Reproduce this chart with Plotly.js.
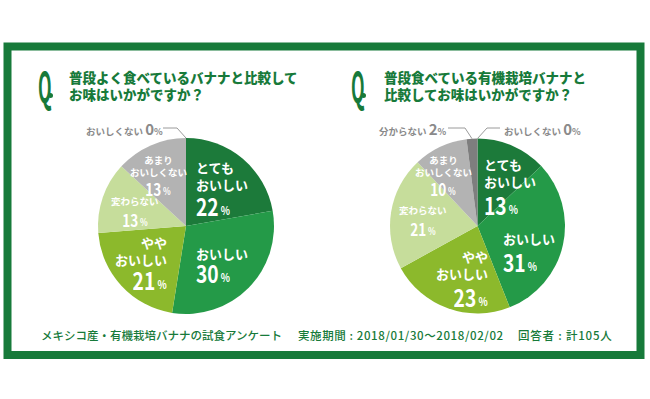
<!DOCTYPE html>
<html>
<head>
<meta charset="utf-8">
<script src="https://cdn.plot.ly/plotly-3.0.1.min.js"></script>
<style>
html,body{margin:0;padding:0;background:#fff;}
#chart{width:650px;height:399px;}
</style>
</head>
<body>
<div id="chart"></div>
<script>
// ---------- DATA ----------
const categories = ['とてもおいしい','おいしい','ややおいしい','変わらない','あまりおいしくない','分からない','おいしくない'];
const nameLines  = [['とても','おいしい'],['おいしい'],['やや','おいしい'],['変わらない'],['あまり','おいしくない'],['分からない'],['おいしくない']];
const values1 = [22, 30, 21, 13, 13, 0, 0];   // 普段よく食べているバナナと比較
const values2 = [13, 31, 23, 21, 10, 2, 0];   // 普段食べている有機栽培バナナと比較
const question1 = ['普段よく食べているバナナと比較して', 'お味はいかがですか？'];
const question2 = ['普段食べている有機栽培バナナと', '比較してお味はいかがですか？'];
const footParts = ['メキシコ産・有機栽培バナナの試食アンケート', '実施期間 : 2018/01/30〜2018/02/02', '回答者 : 計105人'];

// ---------- STYLE ----------
const colors = ['#1c7a3a','#249a48','#8cb92c','#c6dd9b','#b3b3b3','#7e7e7e','#999999'];
const green = '#177a3a';
const grey = '#8a8a8a';
const CJK = '"Noto Sans CJK JP", "Noto Sans", sans-serif';

// pie geometry (pixels)
const pies = [
  {values: values1, cx: 186, cy: 226, r: 88},
  {values: values2, cx: 477.5, cy: 226, r: 87.5}
];

// label placement per pie: index -> placement
const place1 = {
  0: {x:195, ys:[168,183], vy:205, a:'left', big:true},
  1: {x:195, ys:[253], vy:272, a:'left', big:true},
  2: {x:168, ys:[243,258], vy:279, a:'right', big:true},
  3: {x:135, ys:[201], vy:219, a:'center', big:false},
  4: {x:158, ys:[160,172], vy:188, a:'center', big:false},
  6: {out:true, x:85, y:128, lineFrom:163, elbow:177}
};
const place2 = {
  0: {x:483, ys:[165,180], vy:204, a:'left', big:true},
  1: {x:502, ys:[238], vy:261, a:'left', big:true},
  2: {x:489, ys:[257,273], vy:296, a:'right', big:true},
  3: {x:423, ys:[210], vy:228, a:'center', big:false},
  4: {x:443, ys:[160,172], vy:188, a:'center', big:false},
  5: {out:true, x:378, y:128, lineFrom:448, elbow:465},
  6: {out:true, x:503, y:128, lineFrom:500, elbow:487}
};
const places = [place1, place2];

const W = 650, H = 399;
const traces = [{type:'scatter', x:[], y:[], hoverinfo:'skip', showlegend:false}];
const annotations = [];
const shapes = [];
const condense = [];

function ann(x, y, text, opts, sx, anchor) {
  annotations.push(Object.assign({
    xref:'x', yref:'y', x:x, y:y, text:text, showarrow:false,
    xanchor:'left', yanchor:'middle', align:'left', borderpad:0,
    font:{family:CJK, size:12, color:'#ffffff', weight:700}
  }, opts || {}));
  if (sx) condense.push({i: annotations.length - 1, sx: sx, a: anchor || 'left'});
}

pies.forEach((p, pi) => {
  traces.push({
    type:'pie', labels:categories, values:p.values, sort:false,
    direction:'clockwise', rotation:0, textinfo:'none',
    marker:{colors:colors, line:{width:0}},
    domain:{x:[(p.cx - p.r)/W, (p.cx + p.r)/W], y:[(H - p.cy - p.r)/H, (H - p.cy + p.r)/H]},
    showlegend:false, hoverinfo:'label+percent'
  });
  const total = p.values.reduce((s,v)=>s+v,0);
  let cum = 0;
  p.values.forEach((v, i) => {
    const mid = (cum + v/2) / total;
    cum += v;
    const pl = places[pi][i];
    if (!pl) return;
    if (pl.out) {
      const txt = nameLines[i].join('') + ' <span style="font-size:15px">' + v + '</span><span style="font-size:9px">%</span>';
      ann(pl.x, pl.y, txt, {xanchor:'left', font:{family:CJK, size:9.5, color:grey, weight:700}});
      const ang = mid * 2 * Math.PI;
      const ex = p.cx + p.r * Math.sin(ang), ey = p.cy - p.r * Math.cos(ang);
      shapes.push({type:'path', xref:'x', yref:'y',
        path:'M' + pl.lineFrom + ',' + pl.y + ' L' + pl.elbow + ',' + pl.y + ' L' + ex.toFixed(1) + ',' + ey.toFixed(1),
        line:{color:'#9a9a9a', width:1}});
      return;
    }
    const nameSize = pl.big ? 13 : 9.5;
    const yMid = pl.ys.reduce((s,y)=>s+y,0) / pl.ys.length;
    ann(pl.x, yMid, nameLines[i].join('<br>'), {xanchor:pl.a, align:pl.a, font:{family:CJK, size:nameSize, color:'#ffffff', weight:700}});
    const numSize = pl.big ? 24 : 17;
    const pctSize = pl.big ? 12 : 10;
    const vtxt = '<span style="font-size:' + numSize + 'px">' + v + '</span><span style="font-size:' + pctSize + 'px"> %</span>';
    ann(pl.x, pl.vy, vtxt, {xanchor:pl.a, align:pl.a, height: pl.big ? 24 : 18, valign:'middle',
      font:{family:CJK, size:pctSize, color:'#ffffff', weight:700}}, 0.8, pl.a);
  });
});

// Questions
[[question1, 37, 68], [question2, 350, 383]].forEach(([q, qx, tx]) => {
  ann(qx, 84, 'Q', {font:{family:CJK, size:42, color:green, weight:700}}, 0.42, 'left');
  shapes.push({type:'circle', xref:'x', yref:'y', x0:qx + 11, x1:qx + 16, y0:93, y1:98, fillcolor:green, line:{width:0}});
  ann(tx, 77, q[0], {font:{family:CJK, size:13.5, color:green, weight:900}});
  ann(tx, 94, q[1], {font:{family:CJK, size:13.5, color:green, weight:900}});
});

// Footnote
ann(40, 335, footParts[0], {font:{family:CJK, size:11.5, color:green, weight:500}});
ann(297, 335, '<span style="letter-spacing:0.6px">' + footParts[1] + '</span>', {font:{family:CJK, size:11.5, color:green, weight:500}});
ann(517, 335, '<span style="letter-spacing:0.8px">' + footParts[2] + '</span>', {font:{family:CJK, size:11.5, color:green, weight:500}});

// Frame
shapes.push({type:'rect', xref:'x', yref:'y', x0:7.5, x1:640.5, y0:46.5, y1:355, line:{color:green, width:8}, fillcolor:'rgba(0,0,0,0)', layer:'below'});

const layout = {
  width:W, height:H, margin:{l:0,r:0,t:0,b:0},
  paper_bgcolor:'#ffffff', plot_bgcolor:'rgba(0,0,0,0)',
  xaxis:{range:[0,W], visible:false, fixedrange:true},
  yaxis:{range:[H,0], visible:false, fixedrange:true},
  showlegend:false, annotations:annotations, shapes:shapes
};
const gd = document.getElementById('chart');
Plotly.newPlot(gd, traces, layout, {displayModeBar:false, staticPlot:true}).then(() => {
  // condensed lettering for the large numerals and the "Q" mark
  condense.forEach(c => {
    const g = gd.querySelector('g.annotation[data-index="' + c.i + '"]');
    const t = g && g.querySelector('text.annotation-text');
    if (!t) return;
    const bb = t.getBBox();
    const ax = c.a === 'left' ? bb.x : (c.a === 'right' ? bb.x + bb.width : bb.x + bb.width / 2);
    t.setAttribute('transform', 'translate(' + ax + ',0) scale(' + c.sx + ',1) translate(' + (-ax) + ',0)');
  });
});
</script>
</body>
</html>
